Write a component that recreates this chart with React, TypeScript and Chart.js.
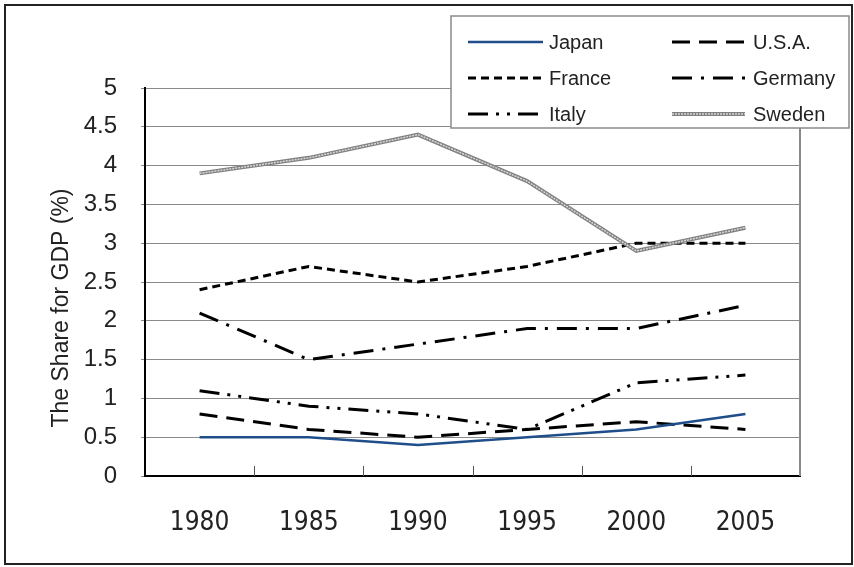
import React, { useEffect, useRef } from "react";
import { Chart, registerables } from "chart.js";
Chart.register(...registerables);

const years = ["1980", "1985", "1990", "1995", "2000", "2005"];
const japan = [0.5, 0.5, 0.4, 0.5, 0.6, 0.8];
const usa = [0.8, 0.6, 0.5, 0.6, 0.7, 0.6];
const france = [2.4, 2.7, 2.5, 2.7, 3.0, 3.0];
const germany = [2.1, 1.5, 1.7, 1.9, 1.9, 2.2];
const italy = [1.1, 0.9, 0.8, 0.6, 1.2, 1.3];
const sweden = [3.9, 4.1, 4.4, 3.8, 2.9, 3.2];
const yMin = 0;
const yMax = 5;
const yStep = 0.5;
const yTitle = "The Share for GDP (%)";

const SANS = '"Liberation Sans", Arial, sans-serif';
const NARROW = '"Liberation Sans Narrow", "Arial Narrow", "DejaVu Sans Condensed", sans-serif';
const TEXT = "#222";

const legendOrder = [
  ["Japan", "U.S.A."],
  ["France", "Germany"],
  ["Italy", "Sweden"],
];

function strokeSample(ctx: CanvasRenderingContext2D, ds: any, x1: number, x2: number, y: number) {
  ctx.save();
  ctx.beginPath();
  ctx.setLineDash(ds.borderDash || []);
  ctx.lineWidth = ds.borderWidth;
  ctx.strokeStyle = ds.borderColor;
  ctx.lineCap = "butt";
  ctx.moveTo(x1, y);
  ctx.lineTo(x2, y);
  ctx.stroke();
  ctx.restore();
}

const decorPlugin = {
  id: "decor",
  afterDraw(chart: any) {
    const ctx: CanvasRenderingContext2D = chart.ctx;
    const { left, right, top, bottom } = chart.chartArea;
    const xs = chart.scales.x;
    ctx.save();
    // right border of plot
    ctx.strokeStyle = "#8a8a8a";
    ctx.lineWidth = 2;
    ctx.beginPath();
    ctx.moveTo(right, top);
    ctx.lineTo(right, bottom);
    ctx.stroke();
    // inward x tick marks between categories
    ctx.strokeStyle = "#555";
    ctx.lineWidth = 1;
    for (let i = 1; i < years.length; i++) {
      const x = Math.round((xs.getPixelForValue(i - 1) + xs.getPixelForValue(i)) / 2) + 0.5;
      ctx.beginPath();
      ctx.moveTo(x, bottom);
      ctx.lineTo(x, bottom - 10);
      ctx.stroke();
    }
    // y title
    ctx.fillStyle = TEXT;
    ctx.font = `23px ${SANS}`;
    ctx.textAlign = "center";
    ctx.textBaseline = "middle";
    ctx.translate(62, 308);
    ctx.rotate(-Math.PI / 2);
    ctx.fillText(yTitle, 0, 0);
    ctx.restore();

    // legend
    ctx.save();
    const bx = 451, by = 16, bw = 398, bh = 112;
    ctx.fillStyle = "#fff";
    ctx.fillRect(bx, by, bw, bh);
    ctx.strokeStyle = "#8a8a8a";
    ctx.lineWidth = 1.5;
    ctx.strokeRect(bx, by, bw, bh);
    const rows = [42, 78, 114];
    const cols = [
      { s1: 468, s2: 543, t: 549 },
      { s1: 672, s2: 745, t: 753 },
    ];
    ctx.font = `20px ${SANS}`;
    ctx.textBaseline = "middle";
    ctx.textAlign = "left";
    legendOrder.forEach((row, r) => {
      row.forEach((name, c) => {
        const y = rows[r];
        const col = cols[c];
        const dsList = chart.data.datasets.filter((d: any) => d.label === name || d.group === name);
        dsList
          .slice()
          .sort((a: any, b: any) => b.order - a.order)
          .forEach((ds: any) => strokeSample(ctx, ds, col.s1, col.s2, y));
        ctx.fillStyle = TEXT;
        ctx.fillText(name, col.t, y + 1);
      });
    });
    ctx.restore();

    // outer frame
    ctx.save();
    ctx.strokeStyle = "#222";
    ctx.lineWidth = 2;
    ctx.strokeRect(5, 5, 847, 559);
    ctx.restore();
  },
};

export default function App() {
  const ref = useRef<HTMLCanvasElement>(null);
  useEffect(() => {
    if (!ref.current) return;
    const common = { pointRadius: 0, tension: 0, fill: false, borderCapStyle: "butt" as const };
    const chart = new Chart(ref.current, {
      type: "line",
      data: {
        labels: years,
        datasets: [
          { ...common, label: "Japan", data: japan, borderColor: "#1f4e8a", borderWidth: 2.5, order: 2 },
          { ...common, label: "U.S.A.", data: usa, borderColor: "#000", borderWidth: 3, borderDash: [18, 9], order: 2 },
          { ...common, label: "France", data: france, borderColor: "#000", borderWidth: 3, borderDash: [8, 5], order: 2 },
          { ...common, label: "Germany", data: germany, borderColor: "#000", borderWidth: 3, borderDash: [20, 9, 3, 9], order: 2 },
          { ...common, label: "Italy", data: italy, borderColor: "#000", borderWidth: 3, borderDash: [20, 8, 3, 8, 3, 8], order: 2 },
          { ...common, label: "Sweden", data: sweden, borderColor: "#808080", borderWidth: 4, order: 1 },
          { ...common, label: "", group: "Sweden", data: sweden, borderColor: "#d8d8d8", borderWidth: 1.5, borderDash: [2, 1], order: 0 } as any,
        ],
      },
      options: {
        responsive: false,
        animation: false,
        events: [],
        layout: { padding: { top: 88, right: 54, bottom: 0, left: 0 } },
        plugins: { legend: { display: false }, tooltip: { enabled: false } },
        scales: {
          x: {
            type: "category",
            offset: true,
            grid: { display: false, drawTicks: false },
            border: { display: true, color: "#000", width: 2 },
            ticks: { font: { family: NARROW, size: 26 }, color: TEXT, padding: 32, maxRotation: 0 },
            afterFit: (s: any) => {
              s.height = 91;
            },
          },
          y: {
            min: yMin,
            max: yMax,
            grid: { color: "#8a8a8a", lineWidth: 1, tickLength: 4 },
            border: { display: true, color: "#000", width: 2 },
            ticks: {
              stepSize: yStep,
              font: { family: SANS, size: 24 },
              color: TEXT,
              padding: 24,
              callback: (v: any) => String(v),
            },
            afterFit: (s: any) => {
              s.width = 145;
            },
          },
        },
      },
      plugins: [decorPlugin],
    });
    return () => chart.destroy();
  }, []);
  return (
    <div style={{ position: "absolute", left: 0, top: 0, width: 854, height: 567, background: "#fff" }}>
      <canvas ref={ref} width={854} height={567} style={{ display: "block" }} />
    </div>
  );
}
